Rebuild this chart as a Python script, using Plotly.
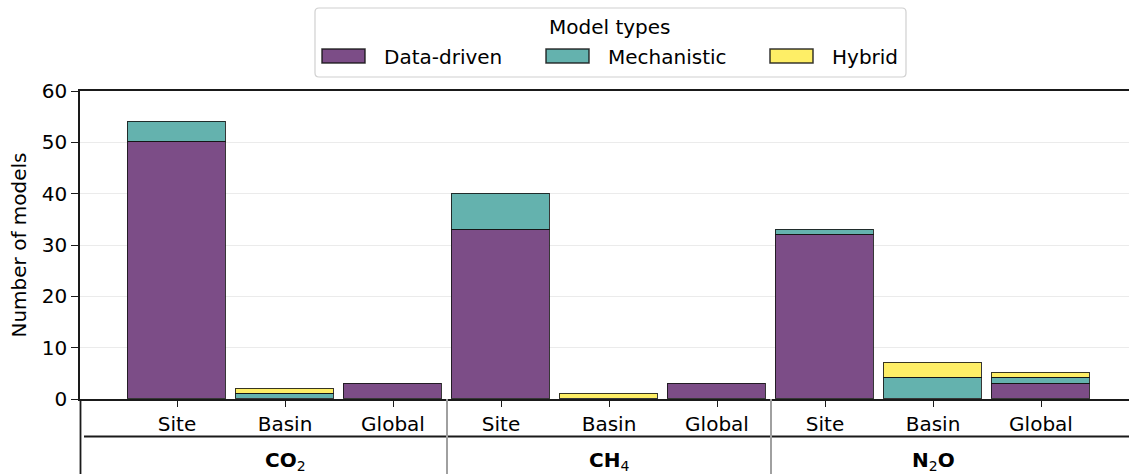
import plotly.graph_objects as go

# ---- data -------------------------------------------------------------
gases = ["<b>CO</b><sub>2</sub>", "<b>CH</b><sub>4</sub>", "<b>N</b><sub>2</sub><b>O</b>"]
scales = ["Site", "Basin", "Global"]
model_types = ["Data-driven", "Mechanistic", "Hybrid"]

# counts per gas, in order Site / Basin / Global
data_driven = [50, 0, 3, 33, 0, 3, 32, 0, 3]
mechanistic = [4, 1, 0, 7, 0, 0, 1, 4, 1]
hybrid = [0, 1, 0, 0, 1, 0, 0, 3, 1]

y_ticks = [0, 10, 20, 30, 40, 50, 60]

# ---- styling ----------------------------------------------------------
W, H = 1129, 474
L, R, T, B = 80, 0, 91, 75
FONT = "DejaVu Sans"
colors = {"Data-driven": "#7C4D87", "Mechanistic": "#64B2AE", "Hybrid": "#FEEE66"}
edge = "rgba(20,20,20,0.85)"
axis_col = "#1a1a1a"

plot_w = W - L - R
plot_h = H - T - B


def px(x):
    """pixel x -> paper x"""
    return (x - L) / plot_w


def py(y):
    """pixel y -> paper y"""
    return (H - B - y) / plot_h


positions = list(range(len(gases) * len(scales)))
tick_text = [s for _ in gases for s in scales]
series = {"Data-driven": data_driven, "Mechanistic": mechanistic, "Hybrid": hybrid}

fig = go.Figure()
for name in model_types:
    vals = [v if v else None for v in series[name]]
    fig.add_trace(go.Bar(
        x=positions, y=vals, name=name, width=0.9,
        marker=dict(color=colors[name], line=dict(color=edge, width=1.5)),
        showlegend=False,
    ))

unit = 108.0  # pixels per category slot
x_min = -(177 - L) / unit
x_max = x_min + plot_w / unit

shapes = []
annotations = []

# hierarchical x-axis: separator lines and group labels
shapes.append(dict(type="line", xref="paper", yref="paper",
                   x0=px(80.5), x1=px(80.5), y0=0, y1=py(H + 5),
                   line=dict(color=axis_col, width=1.8)))
shapes.append(dict(type="line", xref="paper", yref="paper",
                   x0=px(84), x1=1.01, y0=py(436.5), y1=py(436.5),
                   line=dict(color=axis_col, width=1.8)))
n = len(scales)
for g in range(1, len(gases)):
    xs = g * n - 0.5
    shapes.append(dict(type="line", xref="x", yref="paper",
                       x0=xs, x1=xs, y0=0, y1=py(H + 5),
                       line=dict(color="#A0A0A0", width=2)))
for g, gas in enumerate(gases):
    annotations.append(dict(
        x=g * n + (n - 1) / 2, y=py(461), xref="x", yref="paper",
        text=gas, showarrow=False, font=dict(family=FONT, size=20, color="#000"),
        xanchor="center", yanchor="middle"))

# legend drawn as a framed box above the axes
bx0, bx1, by0, by1 = 315, 906, 8, 77
r = 4
path = (f"M {px(bx0 + r)},{py(by0)} L {px(bx1 - r)},{py(by0)} "
        f"Q {px(bx1)},{py(by0)} {px(bx1)},{py(by0 + r)} "
        f"L {px(bx1)},{py(by1 - r)} Q {px(bx1)},{py(by1)} {px(bx1 - r)},{py(by1)} "
        f"L {px(bx0 + r)},{py(by1)} Q {px(bx0)},{py(by1)} {px(bx0)},{py(by1 - r)} "
        f"L {px(bx0)},{py(by0 + r)} Q {px(bx0)},{py(by0)} {px(bx0 + r)},{py(by0)} Z")
shapes.append(dict(type="path", xref="paper", yref="paper", path=path,
                   line=dict(color="#D0D0D0", width=1.2), fillcolor="white"))
annotations.append(dict(x=px(610), y=py(27), xref="paper", yref="paper",
                        text="Model types", showarrow=False,
                        font=dict(family=FONT, size=20, color="#000"),
                        xanchor="center", yanchor="middle"))
swatch_x = [322, 546, 770]
for name, sx in zip(model_types, swatch_x):
    shapes.append(dict(type="rect", xref="paper", yref="paper",
                       x0=px(sx), x1=px(sx + 43), y0=py(49), y1=py(63),
                       fillcolor=colors[name], line=dict(color=edge, width=1.5)))
    annotations.append(dict(x=px(sx + 60), y=py(57), xref="paper", yref="paper",
                            text=name, showarrow=False,
                            font=dict(family=FONT, size=20, color="#000"),
                            xanchor="left", yanchor="middle"))

fig.update_layout(
    width=W, height=H,
    margin=dict(l=L, r=R, t=T, b=B, pad=0),
    barmode="stack",
    bargap=0,
    plot_bgcolor="white", paper_bgcolor="white",
    font=dict(family=FONT, size=20, color="#000"),
    shapes=shapes, annotations=annotations,
    xaxis=dict(
        range=[x_min, x_max], tickmode="array", tickvals=positions, ticktext=tick_text,
        showline=True, mirror=True, linecolor=axis_col, linewidth=1.5,
        ticks="outside", ticklen=6, tickwidth=1.3, tickcolor=axis_col,
        showgrid=False, zeroline=False, tickfont=dict(size=20),
    ),
    yaxis=dict(
        range=[0, 60], tickmode="array", tickvals=y_ticks,
        showline=True, linecolor=axis_col, linewidth=1.5,
        ticks="outside", ticklen=7, tickwidth=1.3, tickcolor=axis_col,
        showgrid=True, gridcolor="#EBEBEB", gridwidth=1, zeroline=False,
        tickfont=dict(size=20),
        title=dict(text="Number of models", font=dict(size=20), standoff=10),
    ),
)

fig.write_html("out.html")
